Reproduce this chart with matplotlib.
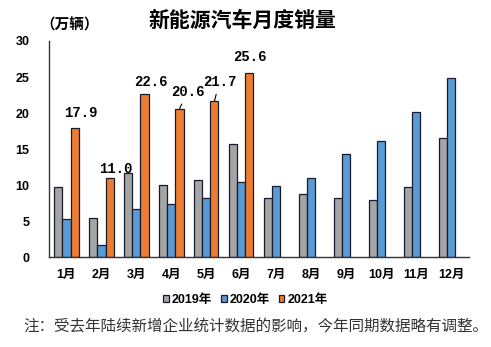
import numpy as np
import matplotlib.pyplot as plt

# 月份与各年销量（万辆）
months = [f"{m}月" for m in range(1, 13)]
sales_2019 = [9.8, 5.4, 11.7, 10.0, 10.8, 15.7, 8.3, 8.8, 8.3, 8.0, 9.8, 16.6]
sales_2020 = [5.3, 1.7, 6.7, 7.4, 8.3, 10.5, 9.9, 11.0, 14.3, 16.2, 20.1, 24.8]
sales_2021 = [17.9, 11.0, 22.6, 20.6, 21.7, 25.6]

# 2021年数值标签的偏移（像素）
label_offsets = [(6, 15), (6, 9), (6, 12), (8, 17), (5, 19), (0, 16)]
leader_months = [3, 4]

plt.rcParams['font.family'] = ['Liberation Sans', 'Noto Sans CJK SC']

fig = plt.figure(figsize=(4.91, 3.47), dpi=100)
ax = fig.add_axes([0.0998, 0.258, 0.855, 0.624])

x = np.arange(len(months))
w = 0.23
edge = '#1a1a2e'
ax.bar(x - w, sales_2019, w, color='#A5A5A5', edgecolor=edge, linewidth=0.9, label='2019年')
ax.bar(x, sales_2020, w, color='#5B9BD5', edgecolor=edge, linewidth=0.9, label='2020年')
x21 = np.arange(len(sales_2021)) + w
ax.bar(x21, sales_2021, w, color='#ED7D31', edgecolor=edge, linewidth=0.9, label='2021年')

for i, v in enumerate(sales_2021):
    dx, dy = label_offsets[i]
    arrow = None
    if i in leader_months:
        arrow = dict(arrowstyle='-', color='black', lw=0.8, shrinkA=2, shrinkB=0)
    ax.annotate(f"{v:.1f}", xy=(x21[i], v), xytext=(dx, dy), textcoords='offset pixels',
                ha='center', va='center', fontsize=10, fontweight='bold',
                family='Liberation Mono', arrowprops=arrow)

ax.set_xlim(-0.5, 11.5)
ax.set_ylim(0, 30)
ax.set_yticks(range(0, 31, 5))
ax.set_xticks(x)
ax.set_xticklabels(months)
for lab in ax.get_xticklabels() + ax.get_yticklabels():
    lab.set_fontweight('bold')
    lab.set_fontsize(9)
ax.tick_params(axis='both', length=0)
ax.tick_params(axis='y', pad=14)
ax.tick_params(axis='x', pad=8)
for s in ['top', 'right']:
    ax.spines[s].set_visible(False)
for s in ['left', 'bottom']:
    ax.spines[s].set_color('#333333')
    ax.spines[s].set_linewidth(1.0)

fig.text(0.494, 0.942, '新能源汽车月度销量', ha='center', va='center',
         fontsize=15, fontweight='bold', family='Noto Sans CJK SC')
fig.text(0.142, 0.928, '（万辆）', ha='center', va='center', fontsize=10.5,
         fontweight='bold', family='Noto Sans CJK SC')

fig.legend(loc='center', bbox_to_anchor=(0.5, 0.135), ncol=3, frameon=False,
           handlelength=0.45, handleheight=0.45, handletextpad=0.25, columnspacing=0.7,
           prop={'weight': 'bold', 'size': 9})

fig.text(0.52, 0.058, '注：受去年陆续新增企业统计数据的影响，今年同期数据略有调整。',
         ha='center', va='center', fontsize=11.2, color='#333333',
         family='Noto Sans CJK SC')

fig.savefig('out.png', dpi=100)
